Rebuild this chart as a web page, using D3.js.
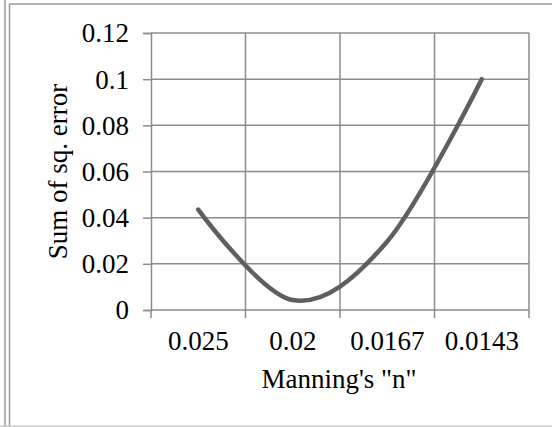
<!DOCTYPE html>
<html>
<head>
<meta charset="utf-8">
<script src="https://cdn.jsdelivr.net/npm/d3@7"></script>
<style>
  body { margin: 0; background: #fff; }
  svg { display: block; }
  text { font-family: "Liberation Serif", "Times New Roman", serif; fill: #000; }
</style>
</head>
<body>
<svg id="chart" width="552" height="427"></svg>
<script>
var categories = ["0.025", "0.02", "0.0167", "0.0143"];
var sqError = [0.0435, 0.0043, 0.0297, 0.1];
var yTicks = [0, 0.02, 0.04, 0.06, 0.08, 0.1, 0.12];

var svg = d3.select("#chart"),
  margin = {top: 33, right: 23, bottom: 117, left: 151},
  width = svg.attr("width") - margin.left - margin.right,
  height = svg.attr("height") - margin.top - margin.bottom;

// frame lines of the page
svg.append("line").attr("x1", 5).attr("x2", 5).attr("y1", 0).attr("y2", 427)
  .attr("stroke", "#999").attr("stroke-width", 1.5);
svg.append("line").attr("x1", 9.5).attr("x2", 9.5).attr("y1", 4).attr("y2", 427)
  .attr("stroke", "#999").attr("stroke-width", 1.5);
svg.append("line").attr("x1", 9.5).attr("x2", 552).attr("y1", 4).attr("y2", 4)
  .attr("stroke", "#999").attr("stroke-width", 1.5);
svg.append("line").attr("x1", 0).attr("x2", 552).attr("y1", 426).attr("y2", 426)
  .attr("stroke", "#ccc").attr("stroke-width", 1.5);

var g = svg.append("g").attr("transform", "translate(" + margin.left + "," + margin.top + ")");

var x = d3.scaleBand().domain(categories).range([0, width]);
var y = d3.scaleLinear().domain([0, 0.12]).range([height, 0]);

// horizontal gridlines
g.selectAll("line.hgrid")
  .data(yTicks.slice(1))
  .enter().append("line")
    .attr("class", "hgrid")
    .attr("x1", 0).attr("x2", width)
    .attr("y1", function (d) { return y(d); })
    .attr("y2", function (d) { return y(d); })
    .attr("stroke", "#8c8c8c").attr("stroke-width", 1.5);

// vertical gridlines at category boundaries
g.selectAll("line.vgrid")
  .data(categories)
  .enter().append("line")
    .attr("class", "vgrid")
    .attr("x1", function (d) { return x(d) + x.bandwidth(); })
    .attr("x2", function (d) { return x(d) + x.bandwidth(); })
    .attr("y1", 0).attr("y2", height)
    .attr("stroke", "#8c8c8c").attr("stroke-width", 1.5);

// y axis
var yAxis = g.append("g")
  .call(d3.axisLeft(y).tickValues(yTicks).tickSize(8).tickPadding(14)
    .tickFormat(function (d) { return d3.format("")(+d.toFixed(2)); }));
yAxis.select(".domain").attr("stroke", "#8c8c8c").attr("stroke-width", 1.5);
yAxis.selectAll(".tick line").attr("stroke", "#8c8c8c").attr("stroke-width", 1.5);
yAxis.selectAll(".tick text").style("font-size", "27px").attr("dy", "0.33em");

// x axis
var xAxis = g.append("g").attr("transform", "translate(0," + height + ")");
xAxis.append("line").attr("x1", 0).attr("x2", width).attr("y1", 0).attr("y2", 0)
  .attr("stroke", "#8c8c8c").attr("stroke-width", 1.5);
xAxis.selectAll("line.xtick")
  .data([0].concat(categories.map(function (c) { return x(c) + x.bandwidth(); })))
  .enter().append("line")
    .attr("class", "xtick")
    .attr("x1", function (d) { return d; }).attr("x2", function (d) { return d; })
    .attr("y1", 0).attr("y2", 8)
    .attr("stroke", "#8c8c8c").attr("stroke-width", 1.5);
xAxis.selectAll("text.xlabel")
  .data(categories)
  .enter().append("text")
    .attr("class", "xlabel")
    .attr("x", function (d) { return x(d) + x.bandwidth() / 2; })
    .attr("y", 40)
    .attr("text-anchor", "middle")
    .style("font-size", "27px")
    .text(function (d) { return d; });

// axis titles
g.append("text")
  .attr("x", width / 2 - 1)
  .attr("y", height + 78)
  .attr("text-anchor", "middle")
  .style("font-size", "27px")
  .text("Manning's \"n\"");

g.append("text")
  .attr("transform", "translate(-84," + (height / 2) + ") rotate(-90)")
  .attr("text-anchor", "middle")
  .style("font-size", "27px")
  .text("Sum of sq. error");

// smoothed series line
var line = d3.line()
  .x(function (d, i) { return x(categories[i]) + x.bandwidth() / 2; })
  .y(function (d) { return y(d); })
  .curve(d3.curveCatmullRom.alpha(0));

g.append("path")
  .datum(sqError)
  .attr("d", line)
  .attr("fill", "none")
  .attr("stroke", "#5f5f5f")
  .attr("stroke-width", 4.5)
  .attr("stroke-linecap", "round");
</script>
</body>
</html>
